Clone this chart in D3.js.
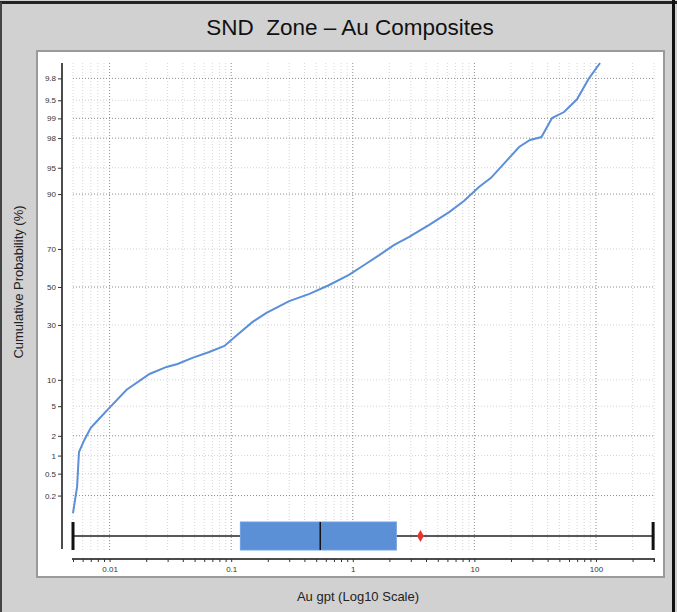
<!DOCTYPE html>
<html>
<head>
<meta charset="utf-8">
<script src="https://cdn.jsdelivr.net/npm/d3@7"></script>
<style>
  body { margin: 0; background: #d2d1d1; }
  svg { display: block; }
  text { font-family: "Liberation Sans", Arial, sans-serif; }
</style>
</head>
<body>
<svg id="chart" width="677" height="612"></svg>
<script>
// Cumulative distribution of Au composite grades (gpt) vs cumulative probability (%)
const auValues = [0.005, 0.0054, 0.0056, 0.0062, 0.007, 0.008, 0.0096, 0.0138, 0.0213, 0.0294,
  0.0362, 0.048, 0.066, 0.088, 0.11, 0.15, 0.195, 0.30, 0.44, 0.64,
  0.93, 1.24, 1.65, 2.19, 2.91, 4.25, 6.2, 8.2, 10.9,
  13.7, 18.6, 23.3, 28.7, 35.6, 43.5, 54.6, 69.8, 87.6, 108];
const cumProb = [0.09, 0.29, 1.14, 1.74, 2.6, 3.3, 4.5, 7.8, 11.5, 13.5,
  14.4, 16.4, 18.5, 20.8, 25.0, 31.5, 36.0, 42.3, 46.2, 51.1,
  56.6, 61.9, 67.0, 71.9, 75.5, 80.4, 84.9, 88.2, 91.6,
  93.4, 96.0, 97.33, 97.87, 98.07, 99.01, 99.21, 99.52, 99.80, 99.90];

// Probability axis ticks and their printed labels
const probTicks = [0.2, 0.5, 1, 2, 5, 10, 30, 50, 70, 90, 95, 98, 99, 99.5, 99.8];
const probLabels = ["0.2", "0.5", "1", "2", "5", "10", "30", "50", "70", "90", "95", "98", "99", "9.5", "9.8"];
const probStrong = [0.2, 2, 50, 90, 98, 99, 99.8];

// Grade axis ticks
const gradeTicks = [0.01, 0.1, 1, 10, 100];
const gradeLabels = ["0.01", "0.1", "1", "10", "100"];

// Box-plot summary of the grades
const boxMin = 0.005, boxQ1 = 0.119, boxMedian = 0.54, boxQ3 = 2.28, boxMax = 295;
const gradeMean = 3.6;

// Inverse standard normal CDF (Acklam)
function probit(p) {
  const a = [-3.969683028665376e+01, 2.209460984245205e+02, -2.759285104469687e+02,
    1.383577518672690e+02, -3.066479806614716e+01, 2.506628277459239e+00];
  const b = [-5.447609879822406e+01, 1.615858368580409e+02, -1.556989798598866e+02,
    6.680131188771972e+01, -1.328068155288572e+01];
  const c = [-7.784894002430293e-03, -3.223964580411365e-01, -2.400758277161838e+00,
    -2.549671010229420e+00, 4.374587199293922e+00, 2.938163982698783e+00];
  const d = [7.784695709041462e-03, 3.224671290700398e-01, 2.445134137142996e+00,
    3.754408661907416e+00];
  const pl = 0.02425, ph = 1 - pl;
  let q, r;
  if (p < pl) {
    q = Math.sqrt(-2 * Math.log(p));
    return (((((c[0]*q+c[1])*q+c[2])*q+c[3])*q+c[4])*q+c[5]) / ((((d[0]*q+d[1])*q+d[2])*q+d[3])*q+1);
  } else if (p <= ph) {
    q = p - 0.5; r = q * q;
    return (((((a[0]*r+a[1])*r+a[2])*r+a[3])*r+a[4])*r+a[5])*q / (((((b[0]*r+b[1])*r+b[2])*r+b[3])*r+b[4])*r+1);
  } else {
    q = Math.sqrt(-2 * Math.log(1 - p));
    return -(((((c[0]*q+c[1])*q+c[2])*q+c[3])*q+c[4])*q+c[5]) / ((((d[0]*q+d[1])*q+d[2])*q+d[3])*q+1);
  }
}

const svg = d3.select("#chart");
const W = 677, H = 612;

// Frame
svg.append("rect").attr("x", 0).attr("y", 0).attr("width", W).attr("height", H).attr("fill", "#d2d1d1");
svg.append("line").attr("x1", 0).attr("x2", W).attr("y1", 2.5).attr("y2", 2.5).attr("stroke", "#222").attr("stroke-width", 3);
svg.append("line").attr("x1", 1).attr("x2", 1).attr("y1", 2).attr("y2", H).attr("stroke", "#444").attr("stroke-width", 2);
svg.append("line").attr("x1", 673.5).attr("x2", 673.5).attr("y1", 0).attr("y2", H).attr("stroke", "#111").attr("stroke-width", 3);

// White plotting panel
svg.append("rect").attr("x", 37).attr("y", 51).attr("width", 627).attr("height", 526)
  .attr("fill", "#fff").attr("stroke", "#9a9a9a").attr("stroke-width", 2);

// Title and axis titles
svg.append("text").attr("x", 350).attr("y", 35).attr("text-anchor", "middle")
  .attr("font-size", 22.5).attr("fill", "#111").style("white-space", "pre")
  .text("SND  Zone \u2013 Au Composites");
svg.append("text").attr("x", 358).attr("y", 601).attr("text-anchor", "middle")
  .attr("font-size", 13).attr("fill", "#222").text("Au gpt (Log10 Scale)");
svg.append("text").attr("transform", "translate(23,282) rotate(-90)").attr("text-anchor", "middle")
  .attr("font-size", 13).attr("fill", "#222").text("Cumulative Probability (%)");

// Scales
const x = d3.scaleLog().domain([0.005, 300]).range([73, 654]);
const z = d3.scaleLinear().domain([probit(0.00015), probit(0.999)]).range([549, 63]);
const y = p => z(probit(p / 100));

// Vertical grid (decades and in-between multiples)
const minorVals = [];
for (let e = -3; e <= 2; e++) {
  for (let m = 1; m <= 9; m++) {
    const v = m * Math.pow(10, e);
    if (v >= 0.005 && v <= 300) minorVals.push(v);
  }
}
const isDecade = d => gradeTicks.some(t => Math.abs(t - d) < t * 1e-6);
const gridG = svg.append("g");
gridG.selectAll("line.vg").data(minorVals).join("line")
  .attr("x1", d => x(d)).attr("x2", d => x(d)).attr("y1", 63).attr("y2", 550)
  .attr("stroke", d => isDecade(d) ? "#8c8c8c" : "#d6d6d6")
  .attr("stroke-width", 1).attr("stroke-dasharray", "1,2");

// Horizontal grid at probability ticks
gridG.selectAll("line.hg").data(probTicks).join("line")
  .attr("x1", 73).attr("x2", 654).attr("y1", d => y(d)).attr("y2", d => y(d))
  .attr("stroke", d => probStrong.includes(d) ? "#8c8c8c" : "#d2d2d2")
  .attr("stroke-width", 1).attr("stroke-dasharray", "1,2");

// Cumulative curve
const pts = auValues.map((v, i) => [x(v), y(cumProb[i])]);
svg.append("path").attr("d", d3.line()(pts))
  .attr("fill", "none").attr("stroke", "#5b8fda").attr("stroke-width", 2);

// Y axis
const yAxis = d3.axisLeft(z).tickValues(probTicks.map(p => probit(p / 100)))
  .tickFormat((d, i) => probLabels[i]).tickSize(4).tickSizeOuter(0);
const yg = svg.append("g").attr("transform", "translate(62,0)").call(yAxis);
yg.select(".domain").attr("stroke", "#111").attr("stroke-width", 1.5).attr("d", "M0,63V549");
yg.selectAll(".tick line").attr("stroke", "#333");
yg.selectAll(".tick text").attr("font-size", 8).attr("fill", "#333").attr("x", -6)
  .attr("font-family", "'Liberation Sans', Arial, sans-serif");

// X axis
const xAxis = d3.axisBottom(x).tickValues(minorVals)
  .tickFormat(d => { const k = gradeTicks.findIndex(t => Math.abs(t - d) < t * 1e-6); return k >= 0 ? gradeLabels[k] : ""; })
  .tickSize(3).tickSizeOuter(0);
const xg = svg.append("g").attr("transform", "translate(0,559)").call(xAxis);
xg.select(".domain").attr("stroke", "#111").attr("stroke-width", 1.5).attr("d", "M72,0H655");
xg.selectAll(".tick line").attr("stroke", "#333");
xg.selectAll(".tick text").attr("font-size", 8).attr("fill", "#333").attr("dy", "0.9em")
  .attr("font-family", "'Liberation Sans', Arial, sans-serif");
xg.append("line").attr("x1", 654).attr("x2", 654).attr("y1", 0).attr("y2", 3).attr("stroke", "#333");

// Box plot along the bottom band
const bY = 536, bH = 28;
const boxG = svg.append("g");
boxG.append("line").attr("x1", x(boxMin)).attr("x2", x(boxMax)).attr("y1", bY).attr("y2", bY)
  .attr("stroke", "#222").attr("stroke-width", 1.3);
boxG.append("rect").attr("x", x(boxQ1)).attr("y", bY - bH / 2)
  .attr("width", x(boxQ3) - x(boxQ1)).attr("height", bH)
  .attr("fill", "#5b8fd6").attr("stroke", "#6f9ee0").attr("stroke-width", 1);
boxG.append("line").attr("x1", x(boxMedian)).attr("x2", x(boxMedian))
  .attr("y1", bY - bH / 2).attr("y2", bY + bH / 2).attr("stroke", "#111").attr("stroke-width", 1.5);
[boxMin, boxMax].forEach(v => {
  boxG.append("line").attr("x1", x(v)).attr("x2", x(v))
    .attr("y1", bY - bH / 2).attr("y2", bY + bH / 2).attr("stroke", "#111").attr("stroke-width", 3);
});
boxG.append("path").attr("d", d3.symbol(d3.symbolDiamond, 40)())
  .attr("transform", `translate(${x(gradeMean)},${bY})`).attr("fill", "#e8342e");
</script>
</body>
</html>
